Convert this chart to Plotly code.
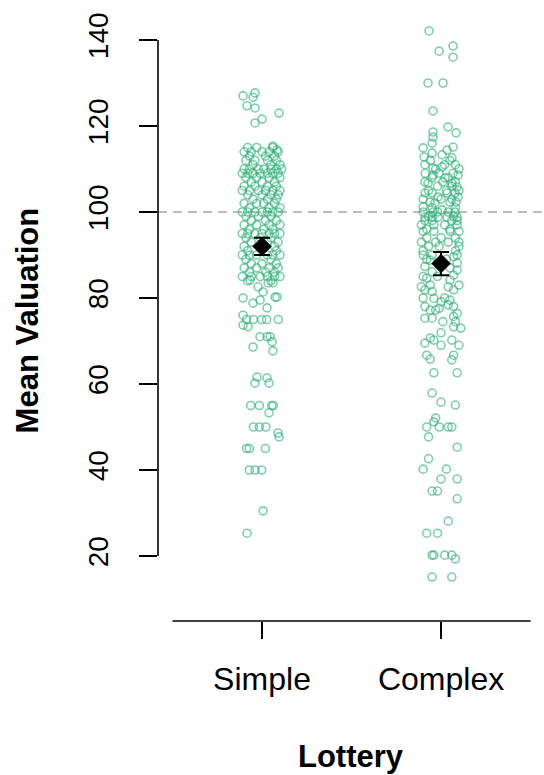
import plotly.graph_objects as go

categories = ["Simple", "Complex"]
cat_pos = [1, 2]

# ---- Simple lottery: (jitter offset, value) ----
simple_jitter = [
    -0.106, -0.05, -0.039, -0.084, -0.039, 0.095, -0.039, 0.0, 0.061, 0.084,
    -0.08, -0.03, 0.06,
    -0.10, -0.06, 0.0, 0.04, 0.09,
    -0.07, 0.02, 0.07,
    -0.09, -0.04, 0.03, 0.08,
    -0.05, 0.05, 0.10,
    -0.10, -0.07, -0.02, 0.01, 0.05, 0.08, 0.11,
    -0.11, -0.08, -0.05, -0.01, 0.03, 0.06, 0.09,
    -0.09, -0.03, 0.04, 0.10,
    -0.06, 0.0, 0.07,
    -0.10, -0.04, 0.03, 0.08,
    -0.11, -0.07, -0.02, 0.02, 0.06, 0.10,
    -0.08, 0.0, 0.05, 0.09,
    -0.05, 0.03, 0.08,
    -0.10, -0.03, 0.01, 0.07,
    -0.07, 0.04, 0.10,
    -0.11, -0.08, -0.04, 0.0, 0.03, 0.06, 0.09,
    -0.09, -0.02, 0.05,
    -0.06, 0.02, 0.08,
    -0.10, -0.03, 0.04, 0.10,
    -0.07, 0.01, 0.06,
    -0.11, -0.08, -0.04, 0.0, 0.04, 0.07, 0.10,
    -0.09, -0.01, 0.05,
    -0.06, 0.03, 0.09,
    -0.10, 0.07,
    -0.08, 0.08,
    -0.11, -0.07, -0.03, 0.03, 0.06, 0.10,
    -0.09, 0.05,
    -0.06, 0.0, 0.08,
    -0.10, -0.03, 0.04, 0.09,
    -0.07, 0.02, 0.07,
    -0.11, -0.06, -0.01, 0.03, 0.07, 0.10,
    -0.08, 0.05,
    -0.067, 0.034, 0.061, -0.022, 0.006, -0.106, -0.05, 0.073, 0.084, -0.011, 0.028,
    -0.106, -0.086, -0.048, -0.002, 0.026, 0.091, -0.106, -0.078,
    -0.011, 0.028, 0.045, 0.056, -0.05, 0.061,
    -0.028, -0.039, 0.028, 0.039,
    -0.063, -0.015, 0.054, 0.063, 0.039,
    -0.048, -0.015, 0.021, 0.089, 0.095,
    -0.086, -0.071, 0.019,
    -0.071, -0.039, -0.002,
    0.006, -0.084,
]
simple_values = [
    127, 126.7, 127.7, 124.7, 124.2, 123, 120.7, 121.6, 115.3, 114.4,
    115, 115, 115,
    114, 114, 114, 114, 114,
    113, 113, 113,
    112, 112, 112, 112,
    111, 111, 111,
    110, 110, 110, 110, 110, 110, 110,
    109, 109, 109, 109, 109, 109, 109,
    108, 108, 108, 108,
    107, 107, 107,
    106, 106, 106, 106,
    105, 105, 105, 105, 105, 105,
    104, 104, 104, 104,
    103, 103, 103,
    102, 102, 102, 102,
    101, 101, 101,
    100, 100, 100, 100, 100, 100, 100,
    99, 99, 99,
    98, 98, 98,
    97, 97, 97, 97,
    96, 96, 96,
    95, 95, 95, 95, 95, 95, 95,
    94, 94, 94,
    93, 93, 93,
    92, 92,
    91, 91,
    90, 90, 90, 90, 90, 90,
    89, 89,
    88, 88, 88,
    87, 87, 87, 87,
    86, 86, 86,
    85, 85, 85, 85, 85, 85,
    84, 84,
    84.2, 83.5, 83.5, 82.6, 81.4, 80, 78.8, 80.2, 80.2, 79.5, 77.7,
    76, 75, 75, 75, 75, 75, 73.7, 73.3,
    71, 71, 71, 69.8, 68.6, 67.7,
    61.6, 60.2, 61.4, 60.2,
    55, 55, 55, 55, 53.3,
    50, 50, 50, 48.6, 47.7,
    45, 45, 45,
    40, 40, 40,
    30.5, 25.3,
]

# ---- Complex lottery: (jitter offset, value) ----
complex_jitter = [
    -0.067, -0.011, 0.067, 0.067, -0.073, 0.011, -0.045, 0.039, 0.084, -0.045,
    -0.045, -0.05, -0.10, -0.095, -0.05, 0.006, 0.034, 0.067, 0.061, -0.045,
    0.006, -0.089, -0.045, -0.011, 0.067, 0.095, -0.073, 0.022, 0.061, 0.089,
    -0.089, -0.05, -0.017, 0.034, 0.078, 0.095, -0.061, -0.034, 0.05, 0.084,
    -0.10, -0.045, 0.006, 0.078, -0.089, -0.05, -0.017, 0.034, 0.089,
    -0.06, 0.05, -0.09, 0.02, 0.08, -0.03, 0.10, -0.05, 0.04,
    -0.09, 0.01, 0.08, -0.02, 0.06, -0.07, 0.03, 0.10,
    -0.10, 0.0, 0.06, -0.05, 0.08, -0.10, -0.02, 0.04, -0.07, 0.07,
    -0.11, -0.04, 0.02, 0.09, -0.08, 0.05,
    -0.09, -0.05, 0.06, 0.09,
    -0.10, -0.04, 0.05, 0.10,
    -0.08, 0.0, 0.08,
    -0.11, -0.03, 0.04, 0.10,
    -0.07, -0.01, 0.10,
    -0.10, 0.08,
    -0.10, -0.05, 0.09,
    0.07, -0.08, 0.03, -0.06, 0.09, -0.09, 0.05, 0.09, -0.05, 0.07,
    -0.10, -0.02, -0.08, 0.05, -0.06, 0.10, -0.11, -0.09, -0.05, 0.04, 0.07,
    -0.10, 0.02, -0.04, 0.0, 0.05, 0.04, -0.09, 0.07, -0.01, -0.06, -0.03,
    0.09, 0.07, -0.09, -0.05, 0.01, 0.08, 0.07, 0.11,
    0.0, -0.06, -0.04, 0.06, -0.09, 0.0, 0.10,
    -0.08, 0.07, -0.06, 0.06, -0.04, 0.09,
    -0.05, 0.0, 0.08, -0.03,
    -0.04, -0.08, -0.01, 0.04, 0.06, -0.07, 0.09, -0.07,
    -0.10, 0.03, 0.0, 0.09, -0.05, -0.02, 0.09, 0.04,
    -0.08, -0.02, -0.05, -0.04, 0.02, 0.06, 0.08, -0.05, 0.06,
]
complex_values = [
    142.1, 137.4, 138.6, 136, 130, 130, 123.5, 119.8, 118.4, 118.6,
    117.4, 116, 114.9, 112.8, 113.7, 113.3, 114.4, 115.1, 112.6, 110.2,
    110.5, 109, 108.6, 109, 109, 108.6, 106.7, 107.9, 106.7, 105.8,
    104.4, 104.4, 103.5, 104.4, 104.4, 103.5, 102.3, 102.1, 102.3, 102.3,
    101.2, 100, 100.5, 100, 98.8, 98.8, 98.8, 98.8, 98.8,
    112, 112, 111, 111, 111, 110, 110, 108, 108,
    107, 107, 107, 106, 106, 105, 105, 105,
    103, 103, 103, 101, 101, 100, 100, 100, 99, 99,
    97, 97, 97, 97, 96, 96,
    98, 98, 98, 98,
    95.5, 95.5, 95.5, 95.5,
    94, 94, 94,
    93, 93, 93, 93,
    92, 92, 92,
    91, 91,
    90, 90, 90,
    89.6, 89, 89, 88.8, 88.1, 87.3, 87, 86.5, 86.1, 85.3,
    85, 85, 84.6, 84.2, 83, 83, 82.6, 81.9, 81.5, 82.6, 81.9,
    80, 80, 79.9, 79.1, 79.5, 78.4, 78, 78, 77.6, 77.2, 77.2,
    76.4, 75.7, 75.3, 75.3, 74.5, 74.5, 73.3, 73,
    71.9, 70.7, 70.2, 70.2, 69.5, 69, 69,
    66.7, 66.7, 65.8, 65.6, 62.6, 62.6,
    57.9, 55.8, 55.1, 52.1,
    51.2, 50, 50, 50, 50, 47.7, 45.3, 42.6,
    40.2, 40.2, 37.9, 37.9, 35.1, 35.1, 33.3, 28.1,
    25.3, 25.3, 20.2, 20.2, 20.2, 20.2, 19.3, 15.1, 15.1,
]

# ---- Group means and standard errors ----
group_means = [92.0, 88.0]
group_se = [2.0, 2.7]

reference_value = 100
y_ticks = [20, 40, 60, 80, 100, 120, 140]

FONT = "Liberation Sans, Arial, sans-serif"
POINT_COLOR = "rgba(40,175,115,0.6)"

fig = go.Figure()

for pos, jit, vals in [(cat_pos[0], simple_jitter, simple_values),
                       (cat_pos[1], complex_jitter, complex_values)]:
    fig.add_trace(go.Scatter(
        x=[pos + j for j in jit], y=vals, mode="markers",
        marker=dict(symbol="circle-open", size=8, color=POINT_COLOR,
                    line=dict(width=1.6, color=POINT_COLOR)),
        showlegend=False, hoverinfo="skip",
    ))

fig.add_trace(go.Scatter(
    x=cat_pos, y=group_means, mode="markers",
    marker=dict(symbol="diamond", size=15, color="black"),
    error_y=dict(type="data", array=group_se, visible=True,
                 color="black", thickness=2, width=8),
    showlegend=False,
))

# reference dashed line
fig.add_shape(type="line", xref="paper", yref="y", x0=0, x1=1,
              y0=reference_value, y1=reference_value,
              line=dict(color="#bdbdbd", width=2, dash="9px,6px"), layer="below")
# y axis line (spans tick range only)
fig.add_shape(type="line", xref="paper", yref="y", x0=0, x1=0,
              y0=y_ticks[0], y1=y_ticks[-1],
              line=dict(color="black", width=1.6))
# x axis line
fig.add_shape(type="line", xref="x", yref="paper", x0=0.5, x1=2.5,
              y0=0, y1=0, line=dict(color="black", width=1.6))

fig.update_layout(
    width=544, height=775,
    margin=dict(l=158, r=0, t=20, b=154),
    plot_bgcolor="white", paper_bgcolor="white",
    font=dict(family=FONT, color="black"),
    xaxis=dict(range=[0.419, 2.575], tickvals=cat_pos, ticktext=categories,
               ticks="outside", ticklen=17, tickwidth=1.6, tickcolor="black",
               showgrid=False, zeroline=False, showline=False,
               tickfont=dict(size=32, family=FONT), ticklabelstandoff=13),
    yaxis=dict(range=[4.88, 144.65], tickvals=y_ticks,
               ticks="outside", ticklen=18, tickwidth=1.6, tickcolor="black",
               showgrid=False, zeroline=False, showline=False, tickangle=-90,
               tickfont=dict(size=28, family=FONT), ticklabelstandoff=20),
    annotations=[
        dict(text="<b>Lottery</b>", xref="paper", yref="paper", x=0.5, y=-0.225,
             xanchor="center", yanchor="middle", showarrow=False,
             font=dict(size=31, family=FONT)),
        dict(text="<b>Mean Valuation</b>", xref="paper", yref="paper", x=-0.337,
             y=0.5, xanchor="center", yanchor="middle", showarrow=False,
             textangle=-90, font=dict(size=31, family=FONT)),
    ],
)

fig.write_html("out.html", config={"displayModeBar": False},
               post_script="document.body.style.margin='0';document.body.style.overflow='hidden';")
